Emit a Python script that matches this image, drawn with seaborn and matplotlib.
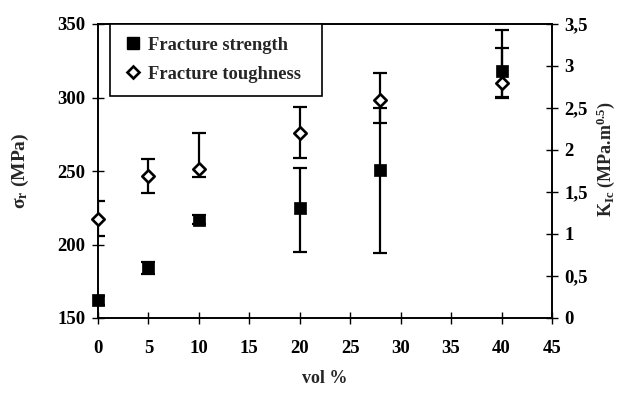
import matplotlib
matplotlib.use("Agg")
import matplotlib.pyplot as plt
import seaborn as sns
import pandas as pd
import numpy as np
from matplotlib.lines import Line2D

vol = [0, 5, 10, 20, 28, 40]
strength = [162, 184, 217, 225, 251, 318]
strength_err_low = [3, 4, 3, 30, 57, 18]
strength_err_high = [3, 4, 3, 27, 42, 28]
toughness = [1.18, 1.69, 1.77, 2.20, 2.60, 2.80]
tough_err_low = [0.20, 0.20, 0.09, 0.30, 0.28, 0.17]
tough_err_high = [0.21, 0.20, 0.43, 0.31, 0.32, 0.41]

x_ticks = [0, 5, 10, 15, 20, 25, 30, 35, 40, 45]
left_ticks = [150, 200, 250, 300, 350]
right_ticks = [0, 0.5, 1, 1.5, 2, 2.5, 3, 3.5]
right_tick_labels = ["0", "0,5", "1", "1,5", "2", "2,5", "3", "3,5"]

sns.set_style("ticks")
plt.rcParams['font.family'] = ['Liberation Serif', 'DejaVu Serif']
plt.rcParams['mathtext.fontset'] = 'custom'
plt.rcParams['mathtext.rm'] = 'Liberation Serif'
plt.rcParams['mathtext.it'] = 'Liberation Serif:italic'
plt.rcParams['mathtext.bf'] = 'Liberation Serif:bold'

df = pd.DataFrame({"vol": vol, "strength": strength, "toughness": toughness})

fig = plt.figure(figsize=(6.2, 3.94), dpi=100)
ax = fig.add_axes([98/620, 1-318/394, 454/620, 294/394])
ax2 = ax.twinx()

lw = 1.6
ax.errorbar(vol, strength, yerr=[strength_err_low, strength_err_high], fmt='none',
            ecolor='black', elinewidth=lw, capsize=5, capthick=lw, zorder=2)
sns.scatterplot(data=df, x="vol", y="strength", ax=ax, marker='s', s=75,
                color='black', edgecolor='black', linewidth=0.5, zorder=3,
                legend=False, clip_on=False)

ax2.errorbar(vol, toughness, yerr=[tough_err_low, tough_err_high], fmt='none',
             ecolor='black', elinewidth=lw, capsize=5, capthick=lw, zorder=2)
sns.scatterplot(data=df, x="vol", y="toughness", ax=ax2, marker='D', s=40,
                color='white', edgecolor='black', linewidth=1.9, zorder=3,
                legend=False, clip_on=False)

ax.set_xlim(0, 45)
ax.set_ylim(150, 350)
ax2.set_ylim(0, 3.5)
ax.set_xticks(x_ticks)
ax.set_yticks(left_ticks)
ax2.set_yticks(right_ticks)
ax2.set_yticklabels(right_tick_labels)

for a in (ax, ax2):
    for sp in a.spines.values():
        sp.set_visible(True)
        sp.set_linewidth(1.2)
        sp.set_color('black')

ax.tick_params(axis='both', direction='inout', length=8, width=1.0, colors='black',
               labelsize=13.5)
ax.tick_params(axis='x', pad=12)
ax.tick_params(axis='y', pad=5)
ax2.tick_params(axis='y', direction='inout', length=8, width=1.0, colors='black',
                labelsize=13.5, pad=5)
for lab in ax.get_xticklabels() + ax.get_yticklabels() + ax2.get_yticklabels():
    lab.set_fontweight('bold')

ax.set_xlabel("vol %", fontsize=13, fontweight='bold', labelpad=9)
ax.set_ylabel(r"$\mathbf{\sigma_r}$ (MPa)", fontsize=14, fontweight='bold', labelpad=19)
ax2.set_ylabel(r"K$_{\mathbf{Ic}}$ (MPa.m$^{\mathbf{0.5}}$)", fontsize=13,
               fontweight='bold', labelpad=5)
ax2.yaxis.set_label_coords(1.094, 0.54)

handles = [
    Line2D([], [], marker='s', linestyle='none', markersize=8.5, markerfacecolor='black',
           markeredgecolor='black'),
    Line2D([], [], marker='D', linestyle='none', markersize=6.3, markerfacecolor='white',
           markeredgecolor='black', markeredgewidth=1.9),
]
leg = ax2.legend(handles, ["Fracture strength", "Fracture toughness"],
                 loc='upper left', bbox_to_anchor=(0.026, 0.748, 0.467, 0.252),
                 mode='expand', borderaxespad=0,
                 frameon=True, fancybox=False, edgecolor='black', framealpha=1,
                 prop={'size': 13.3, 'weight': 'bold'}, handlelength=1.1,
                 handletextpad=0.25, labelspacing=0.65, borderpad=0.7)
leg.get_frame().set_linewidth(1.2)

fig.savefig("out.png", dpi=100)
